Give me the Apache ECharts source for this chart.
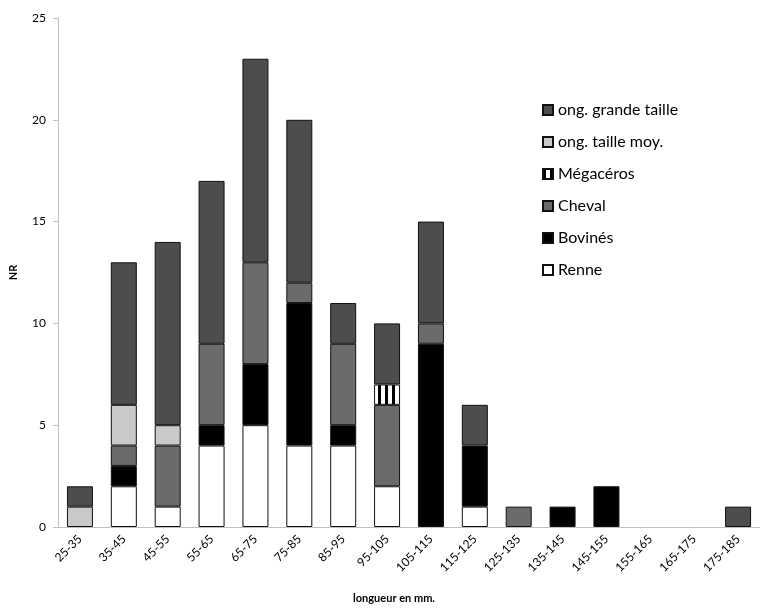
<!DOCTYPE html>
<html>
<head>
<meta charset="utf-8">
<script src="https://cdn.jsdelivr.net/npm/echarts@6/dist/echarts.min.js"></script>
<style>html,body{margin:0;padding:0;background:#fff}#c{width:760px;height:609px}</style>
</head>
<body>
<div id="c"></div>
<script>
var categories = ['25-35','35-45','45-55','55-65','65-75','75-85','85-95','95-105','105-115','115-125','125-135','135-145','145-155','155-165','165-175','175-185'];
var renne      = [0,2,1,4,5,4,4,2,0,1,0,0,0,0,0,0];
var bovines    = [0,1,0,1,3,7,1,0,9,3,0,1,2,0,0,0];
var cheval     = [0,1,3,4,5,1,4,4,1,0,1,0,0,0,0,0];
var megaceros  = [0,0,0,0,0,0,0,1,0,0,0,0,0,0,0,0];
var tailleMoy  = [1,2,1,0,0,0,0,0,0,0,0,0,0,0,0,0];
var grandeTaille = [1,7,9,8,10,8,2,3,5,2,0,0,0,0,0,1];
var yTicks = [0,5,10,15,20,25];

var pc = document.createElement('canvas');
pc.width = 7; pc.height = 7;
var g = pc.getContext('2d');
g.fillStyle = '#fff'; g.fillRect(0,0,7,7);
g.fillStyle = '#000'; g.fillRect(0,0,3,7);
var stripe = {image: pc, repeat: 'repeat'};

var font = 'Lato, "Open Sans", sans-serif';
function mk(name, data, color) {
  return {
    name: name, type: 'bar', stack: 'a',
    data: data.map(function(v){ return v === 0 ? '-' : v; }),
    barWidth: 26,
    itemStyle: {color: color, borderColor: '#111', borderWidth: 1},
    emphasis: {disabled: true}
  };
}
var chart = echarts.init(document.getElementById('c'));
chart.setOption({
  animation: false,
  backgroundColor: '#fff',
  textStyle: {fontFamily: font},
  grid: {left: 55, top: 18, width: 714, bottom: 75, containLabel: false},
  legend: {
    orient: 'vertical', left: 537, top: 97, icon: 'rect',
    itemWidth: 10, itemHeight: 10, itemGap: 16,
    textStyle: {fontFamily: font, fontSize: 16, color: '#000', lineHeight: 16},
    data: ['ong. grande taille','ong. taille moy.','Mégacéros','Cheval','Bovinés','Renne']
  },
  xAxis: {
    type: 'category', data: categories,
    name: 'longueur en mm.', nameLocation: 'middle', nameGap: 66,
    nameTextStyle: {fontFamily: font, fontSize: 11, fontWeight: 'bold', color: '#000', padding: [0,0,0,-30]},
    axisLine: {lineStyle: {color: '#bfbfbf'}},
    axisTick: {show: false},
    axisLabel: {rotate: 45, interval: 0, fontSize: 12, color: '#000', fontFamily: font, margin: 10}
  },
  yAxis: {
    type: 'value', min: 0, max: 25, interval: 5,
    name: 'NR', nameLocation: 'middle', nameGap: 39,
    nameTextStyle: {fontFamily: font, fontSize: 11, fontWeight: 'bold', color: '#000'},
    axisLine: {show: true, lineStyle: {color: '#bfbfbf'}},
    axisTick: {show: true, inside: false, length: 5, lineStyle: {color: '#bfbfbf'}},
    splitLine: {show: false},
    axisLabel: {fontSize: 12, color: '#000', fontFamily: font, margin: 12,
      formatter: function(v){ return yTicks.indexOf(v) >= 0 ? String(v) : ''; }}
  },
  series: [
    mk('Renne', renne, '#ffffff'),
    mk('Bovinés', bovines, '#000000'),
    mk('Cheval', cheval, '#6b6b6b'),
    mk('Mégacéros', megaceros, stripe),
    mk('ong. taille moy.', tailleMoy, '#c9c9c9'),
    mk('ong. grande taille', grandeTaille, '#4d4d4d')
  ]
});
</script>
</body>
</html>
